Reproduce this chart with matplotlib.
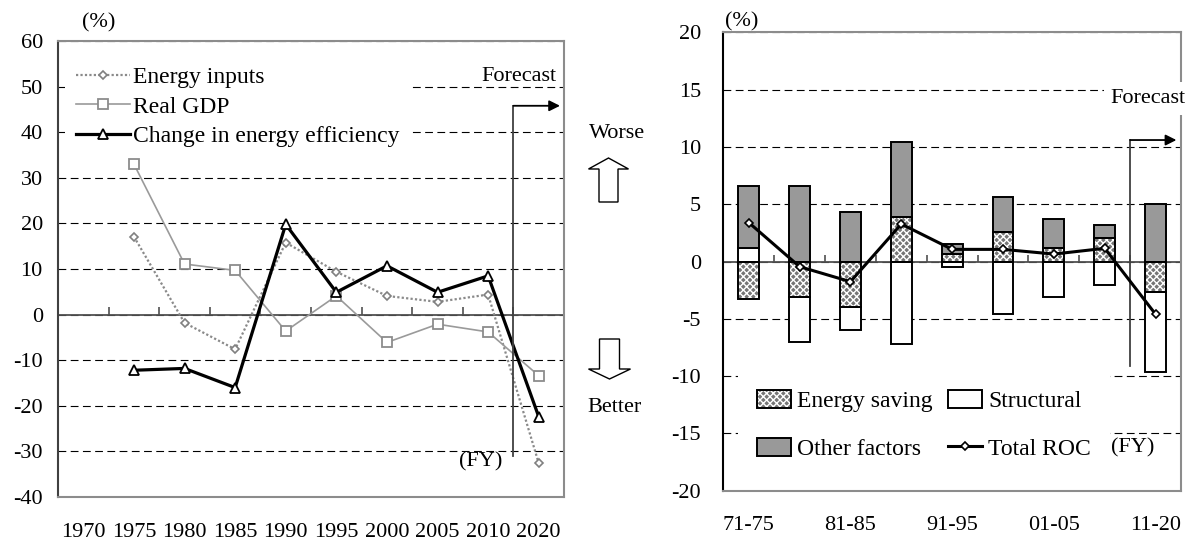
import numpy as np
import matplotlib
matplotlib.use('Agg')
import matplotlib.pyplot as plt
from matplotlib.patches import FancyArrow
from matplotlib.legend_handler import HandlerTuple

plt.rcParams['font.family'] = ['Liberation Serif', 'DejaVu Serif']
plt.rcParams['font.size'] = 16
plt.rcParams['axes.unicode_minus'] = False
plt.rcParams['hatch.linewidth'] = 1.0

# left chart: rate of change per 5 years (%)
years = ['1970', '1975', '1980', '1985', '1990', '1995', '2000', '2005', '2010', '2020']
energy_inputs = [np.nan, 17.1, -1.8, -7.6, 15.8, 9.4, 4.1, 2.8, 4.4, -32.6]
real_gdp = [np.nan, 33.0, 11.1, 9.7, -3.6, 4.1, -6.1, -2.1, -3.8, -13.4]
efficiency = [np.nan, -12.2, -11.8, -16.0, 19.8, 4.9, 10.7, 4.9, 8.5, -22.4]

# right chart: decomposition of the rate of change (%)
periods = ['71-75', '76-80', '81-85', '86-90', '91-95', '96-00', '01-05', '06-10', '11-20']
energy_saving = [-3.3, -3.07, -4.0, 3.86, 0.63, 2.6, 1.2, 2.08, -2.7]
structural = [1.15, -3.93, -2.0, -7.2, -0.45, -4.6, -3.07, -2.05, -6.9]
other_factors = [5.45, 6.6, 4.3, 6.6, 0.87, 3.05, 2.53, 1.12, 5.0]
total_roc = [3.4, -0.45, -1.76, 3.27, 1.06, 1.06, 0.65, 1.15, -4.6]

dash = (0, (7, 4))

fig = plt.figure(figsize=(11.94, 5.42), dpi=100)

# ---------------- left chart ----------------
ax1 = fig.add_axes([0.0486, 0.0830, 0.4238, 0.8413])
x = np.arange(len(years))
ax1.set_xlim(-0.5, len(years) - 0.5)
ax1.set_ylim(-40, 60)
ax1.set_yticks(range(-40, 61, 10))
ax1.set_xticks(x, years)
ax1.tick_params(axis='x', length=0, pad=19)
ax1.tick_params(axis='y', length=0, pad=11)
ax1.grid(axis='y', linestyle=dash, color='black', lw=0.8)
ax1.set_axisbelow(True)
for s in ['top', 'right', 'bottom']:
    ax1.spines[s].set_color('#8c8c8c')
    ax1.spines[s].set_linewidth(1.5)
ax1.spines['left'].set_color('#404040')
ax1.spines['left'].set_linewidth(1.5)

# zero line with small ticks between years
ax1.axhline(0, color='#505050', lw=1.3, zorder=1.5)
ax1.vlines(x[:-1] + 0.5, 0, 1.7, color='#505050', lw=1.2, zorder=1.5)

ax1.plot(x, energy_inputs, color='#8a8a8a', lw=1.6, linestyle=(0, (1, 1)),
         marker='D', ms=4.5, mfc='white', mec='#808080', mew=1.2, label='Energy inputs')
ax1.plot(x, real_gdp, color='#9a9a9a', lw=1.2,
         marker='s', ms=6.5, mfc='white', mec='#8c8c8c', mew=1.3, label='Real GDP')
ax1.plot(x, efficiency, color='black', lw=2.3,
         marker='^', ms=7.5, mfc='white', mec='black', mew=1.3, label='Change in energy efficiency')

leg1 = ax1.legend(loc='upper left', bbox_to_anchor=(0.0138, 0.967), borderaxespad=0,
                  frameon=True, facecolor='white', edgecolor='none', framealpha=1, fancybox=False,
                  fontsize=17, handlelength=2.3, handletextpad=0.15, labelspacing=0.33,
                  borderpad=0.45)
leg1.set_zorder(1.8)

# forecast marker
ax1.plot([8.5, 8.5], [-31, 45.8], color='#404040', lw=1.3)
ax1.annotate('', xy=(9.42, 45.8), xytext=(8.5, 45.8),
             arrowprops=dict(arrowstyle='-|>', color='black', lw=1.3, mutation_scale=16,
                             shrinkA=0, shrinkB=0))
ax1.text(9.36, 52.3, 'Forecast', ha='right', va='center', fontsize=16)
ax1.text(8.29, -32.3, '(FY)', ha='right', va='center', fontsize=16,
         bbox=dict(fc='white', ec='none', pad=0))

fig.text(99 / 1194, 1 - 23 / 542, '(%)', ha='center', va='center', fontsize=16)
fig.text(617 / 1194, 1 - 133 / 542, 'Worse', ha='center', va='center', fontsize=16)
fig.text(614 / 1194, 1 - 407 / 542, 'Better', ha='center', va='center', fontsize=16)
fig.add_artist(FancyArrow(6.085, 3.40, 0, 0.44, width=0.19, head_width=0.40, head_length=0.11,
                          length_includes_head=True, fc='white', ec='black', lw=1.0,
                          transform=fig.dpi_scale_trans))
fig.add_artist(FancyArrow(6.095, 2.03, 0, -0.40, width=0.20, head_width=0.42, head_length=0.10,
                          length_includes_head=True, fc='white', ec='black', lw=1.0,
                          transform=fig.dpi_scale_trans))

# ---------------- right chart ----------------
ax2 = fig.add_axes([0.6058, 0.0946, 0.3833, 0.8458])
x2 = np.arange(len(periods))
ax2.set_xlim(-0.5, len(periods) - 0.5)
ax2.set_ylim(-20, 20)
ax2.set_yticks(range(-20, 21, 5))
ax2.set_xticks(x2[::2], periods[::2])
ax2.tick_params(axis='x', length=0, pad=18)
ax2.tick_params(axis='y', length=0, pad=16)
ax2.grid(axis='y', linestyle=dash, color='black', lw=0.8)
ax2.set_axisbelow(True)
for s in ['top', 'right', 'bottom']:
    ax2.spines[s].set_color('#8c8c8c')
    ax2.spines[s].set_linewidth(1.5)
ax2.spines['left'].set_color('black')
ax2.spines['left'].set_linewidth(1.5)

ax2.axhline(0, color='#505050', lw=1.3, zorder=1.5)
ax2.vlines(x2[:-1] + 0.5, 0, 0.6, color='#505050', lw=1.2, zorder=1.5)

# stacked bars: positives go up from zero, negatives go down
w = 0.41
pos = np.zeros(len(periods))
neg = np.zeros(len(periods))
bars = {}
for name, vals in [('es', energy_saving), ('st', structural), ('ot', other_factors)]:
    vals = np.array(vals)
    bottom = np.where(vals >= 0, pos, neg)
    if name == 'es':
        b1 = ax2.bar(x2, vals, w, bottom=bottom, color='#767676', edgecolor='white',
                     hatch='xxxxx', lw=0, zorder=2)
        b2 = ax2.bar(x2, vals, w, bottom=bottom, color='none', edgecolor='black', lw=1.4, zorder=2.1)
        bars[name] = (b1, b2)
    elif name == 'st':
        bars[name] = ax2.bar(x2, vals, w, bottom=bottom, color='white', edgecolor='black',
                             lw=1.4, zorder=2)
    else:
        bars[name] = ax2.bar(x2, vals, w, bottom=bottom, color='#999999', edgecolor='black',
                             lw=1.4, zorder=2)
    pos = pos + np.where(vals >= 0, vals, 0)
    neg = neg + np.where(vals < 0, vals, 0)

line, = ax2.plot(x2, total_roc, color='black', lw=2.2, marker='D', ms=4.5,
                 mfc='white', mec='black', mew=1.2, zorder=3)

ax2.legend([bars['es'], bars['ot'], bars['st'], line],
           ['Energy saving', 'Other factors', 'Structural', 'Total ROC'],
           handler_map={tuple: HandlerTuple(ndivide=1, pad=0)}, ncol=2,
           loc='upper left', bbox_to_anchor=(0.032, 0.262), borderaxespad=0,
           frameon=True, facecolor='white', edgecolor='none', framealpha=1, fancybox=False,
           fontsize=17, handlelength=1.44, handleheight=0.8, handletextpad=0.25,
           labelspacing=1.1, columnspacing=0.68, borderpad=0.8)

ax2.plot([7.5, 7.5], [-9.15, 10.6], color='#404040', lw=1.3)
ax2.annotate('', xy=(8.41, 10.6), xytext=(7.5, 10.6),
             arrowprops=dict(arrowstyle='-|>', color='black', lw=1.3, mutation_scale=16,
                             shrinkA=0, shrinkB=0))
ax2.text(8.59, 14.2, 'Forecast', ha='right', va='center', fontsize=16, clip_on=False,
         bbox=dict(fc='white', ec='none', pad=5), zorder=6)
ax2.text(7.55, -16.3, '(FY)', ha='center', va='center', fontsize=16, zorder=6)

fig.text(741.7 / 1194, 1 - 21.7 / 542, '(%)', ha='center', va='center', fontsize=16)

fig.savefig('out.png', dpi=100)
